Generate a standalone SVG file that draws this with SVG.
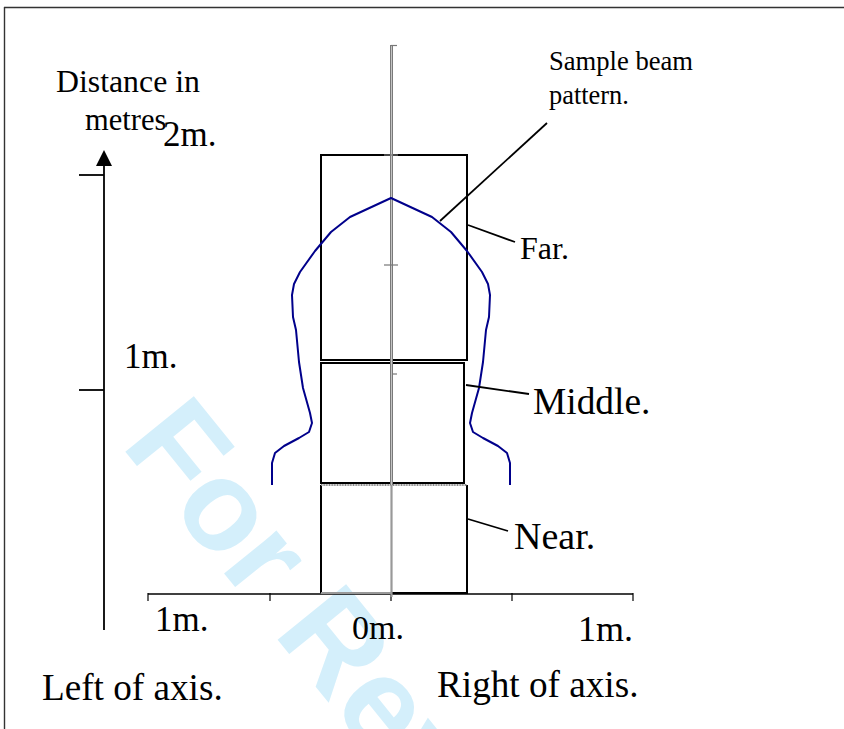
<svg xmlns="http://www.w3.org/2000/svg" width="844" height="729" viewBox="0 0 844 729">
<style>
.t{font-family:"Liberation Serif","Times New Roman",serif;fill:#000}
.ln{stroke:#000;stroke-width:1.8;fill:none}
.box{fill:none;stroke:#000;stroke-width:2}
.tick{stroke:#000;stroke-width:1.2}
.gt{stroke:#777;stroke-width:1.2}
</style>
<rect width="844" height="729" fill="#fff"/>
<!-- watermark -->
<text transform="translate(120,445) rotate(51)" x="0" y="0" font-family="'Liberation Sans',Arial,sans-serif" font-weight="bold" font-size="128" fill="#d4effb">For Review Only</text>
<!-- frame -->
<g id="frame">
<line x1="4" y1="7.5" x2="844" y2="7.5" stroke="#333" stroke-width="1.6"/>
<line x1="4.5" y1="7" x2="4.5" y2="729" stroke="#333" stroke-width="1.4"/>
</g>
<!-- vertical distance axis -->
<g id="y-axis">
<line class="ln" x1="104" y1="164" x2="104" y2="630" stroke-width="2"/>
<polygon points="104,150 96,166 112,166" fill="#000"/>
<line class="ln" x1="79" y1="175" x2="104" y2="175" stroke-width="1.6"/>
<line class="ln" x1="79" y1="390" x2="104" y2="390" stroke-width="1.6"/>
<text class="t" x="56" y="92" font-size="31.8">Distance in</text>
<text class="t" x="85" y="130" font-size="30.5">metres</text>
<text class="t" x="163" y="146" font-size="35">2m.</text>
<text class="t" x="124" y="368" font-size="35">1m.</text>
</g>
<!-- horizontal axis -->
<g id="x-axis">
<line x1="148" y1="594" x2="633" y2="594" stroke="#000" stroke-width="1.5"/>
<line class="tick" x1="148" y1="593" x2="148" y2="601"/>
<line class="tick" x1="270" y1="593" x2="270" y2="601"/>
<line class="tick" x1="391" y1="593" x2="391" y2="601"/>
<line class="tick" x1="512" y1="593" x2="512" y2="601"/>
<line class="tick" x1="633" y1="593" x2="633" y2="601"/>
<text class="t" x="155" y="631" font-size="35">1m.</text>
<text class="t" x="352" y="639" font-size="34">0m.</text>
<text class="t" x="578" y="641" font-size="36">1m.</text>
<text class="t" x="42" y="700" font-size="37.2">Left of axis.</text>
<text class="t" x="437" y="697" font-size="37.2">Right of axis.</text>
</g>
<!-- zone boxes -->
<g id="far">
<rect class="box" x="321" y="155" width="146" height="205"/>
<text class="t" x="520" y="259" font-size="32">Far.</text>
</g>
<g id="middle">
<rect class="box" x="321" y="363" width="143" height="120"/>
<text class="t" x="533" y="414" font-size="37.4">Middle.</text>
</g>
<g id="near">
<path d="M321,485 V593" class="box"/>
<path d="M391,593 H467 V485" class="box"/>
<path d="M321,593 H391" fill="none" stroke="#999" stroke-width="2"/>
<path d="M321,485 H467" fill="none" stroke="#888" stroke-width="2.2" stroke-dasharray="1 0.6"/>
<text class="t" x="514" y="549" font-size="38">Near.</text>
</g>
<!-- centre line -->
<g id="centre-line">
<line x1="391.5" y1="45" x2="391.5" y2="485" stroke="#7a7a7a" stroke-width="3"/>
<line x1="391.5" y1="45" x2="391.5" y2="485" stroke="#c4c4c4" stroke-width="1"/>
<line x1="391.5" y1="485" x2="391.5" y2="597" stroke="#999" stroke-width="2.2"/>
<line class="gt" x1="391" y1="45.5" x2="397" y2="45.5"/>
<line class="gt" x1="384" y1="155" x2="398" y2="155"/>
<line class="gt" x1="384" y1="265" x2="398" y2="265"/>
<line class="gt" x1="392" y1="374" x2="397" y2="374"/>
</g>
<!-- beam pattern -->
<g id="beam">
<path fill="none" stroke="#00008b" stroke-width="2" stroke-linejoin="round" d="M272,485 L272,463 L275,453 L284,446 L299,438 L309,432 L312,423 L310,413 L303,388 L299,362 L296,330 L293,317 L292,295 L294,284 L300,272 L315,251 L331,232 L350,217 L391,198 L432,217 L451,232 L467,251 L482,272 L488,284 L490,295 L489,317 L486,330 L483,362 L479,388 L472,413 L470,423 L473,432 L483,438 L498,446 L507,453 L510,463 L510,485"/>
<text class="t" x="549" y="70" font-size="26.6">Sample beam</text>
<text class="t" x="549" y="104" font-size="26.4">pattern.</text>
</g>
<!-- leaders -->
<g id="connectors">
<line class="ln" x1="440" y1="221" x2="547" y2="123" stroke-width="1.6"/>
<line class="ln" x1="468" y1="225" x2="515" y2="242" stroke-width="1.6"/>
<line class="ln" x1="466" y1="385" x2="529" y2="394" stroke-width="1.6"/>
<line class="ln" x1="468" y1="519" x2="508" y2="531" stroke-width="1.6"/>
</g>
</svg>
